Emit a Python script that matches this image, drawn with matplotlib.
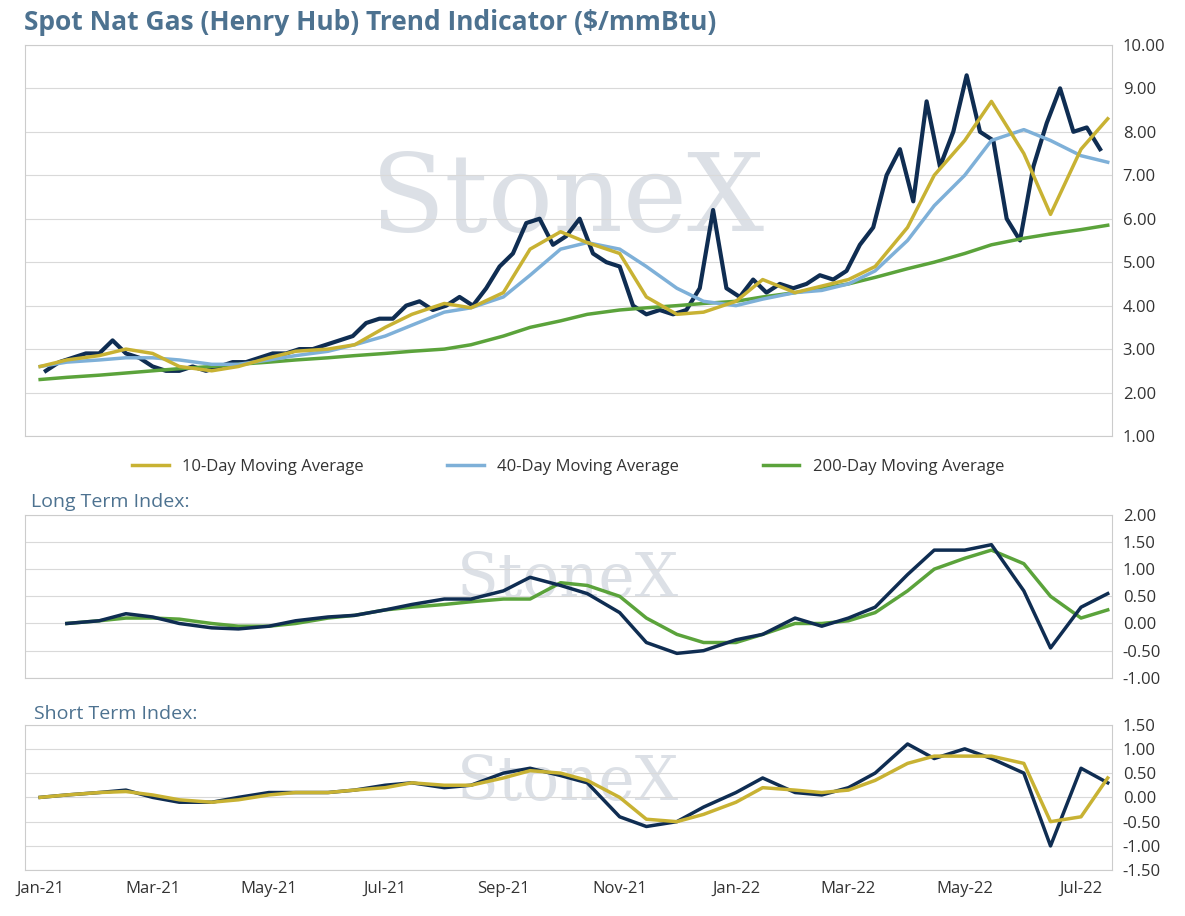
import matplotlib
matplotlib.use("Agg")
import matplotlib.pyplot as plt
import matplotlib.dates as mdates
import numpy as np
import pandas as pd

plt.rcParams["font.family"] = ["Open Sans", "DejaVu Sans"]

NAVY = "#0f2d52"
GOLD = "#c8b233"
BLUE = "#7eb0d8"
GREEN = "#5ba33b"
TITLE = "#4d7290"

# weekly spot price, from first Monday of 2021
spot = [2.5, 2.7, 2.8, 2.9, 2.9, 3.2, 2.9, 2.8, 2.6, 2.5, 2.5, 2.6,
        2.5, 2.6, 2.7, 2.7, 2.8, 2.9, 2.9, 3.0, 3.0, 3.1, 3.2, 3.3, 3.6,
        3.7, 3.7, 4.0, 4.1, 3.9, 4.0, 4.2, 4.0, 4.4, 4.9, 5.2, 5.9, 6.0,
        5.4, 5.6, 6.0, 5.2, 5.0, 4.9, 4.0, 3.8, 3.9, 3.8, 3.9, 4.4, 6.2,
        4.4, 4.2, 4.6, 4.3, 4.5, 4.4, 4.5, 4.7, 4.6, 4.8, 5.4, 5.8, 7.0,
        7.6, 6.4, 8.7, 7.2, 8.0, 9.3, 8.0, 7.8, 6.0, 5.5, 7.2, 8.2, 9.0,
        8.0, 8.1, 7.6]

# semi-monthly series (1st and 15th of each month)
ma10 = [2.6, 2.75, 2.85, 3.0, 2.9, 2.6, 2.5, 2.6, 2.8, 2.95,
        3.0, 3.1, 3.5, 3.8, 4.05, 3.95, 4.3, 5.3, 5.7, 5.45,
        5.2, 4.2, 3.8, 3.85, 4.1, 4.6, 4.3, 4.45, 4.6, 4.9,
        5.8, 7.0, 7.8, 8.7, 7.5, 6.1, 7.6, 8.3]
ma40 = [2.6, 2.7, 2.75, 2.8, 2.8, 2.75, 2.65, 2.65, 2.75, 2.85,
        2.95, 3.1, 3.3, 3.55, 3.85, 3.95, 4.2, 4.7, 5.3, 5.45,
        5.3, 4.9, 4.4, 4.1, 4.0, 4.15, 4.3, 4.35, 4.5, 4.8,
        5.5, 6.3, 7.0, 7.8, 8.05, 7.8, 7.45, 7.3]
ma200 = [2.3, 2.35, 2.4, 2.45, 2.5, 2.55, 2.6, 2.65, 2.7, 2.75,
         2.8, 2.85, 2.9, 2.95, 3.0, 3.1, 3.3, 3.5, 3.65, 3.8,
         3.9, 3.95, 4.0, 4.05, 4.1, 4.2, 4.3, 4.4, 4.5, 4.65,
         4.85, 5.0, 5.2, 5.4, 5.55, 5.65, 5.75, 5.85]
long_fast = [np.nan, 0, 0.05, 0.18, 0.12, 0.0, -0.08, -0.1, -0.05, 0.05,
             0.12, 0.15, 0.25, 0.35, 0.45, 0.45, 0.6, 0.85, 0.7, 0.55,
             0.2, -0.35, -0.55, -0.5, -0.3, -0.2, 0.1, -0.05, 0.1, 0.3,
             0.9, 1.35, 1.35, 1.45, 0.6, -0.45, 0.3, 0.55]
long_slow = [np.nan, 0, 0.05, 0.1, 0.1, 0.08, 0.0, -0.05, -0.05, 0.0,
             0.1, 0.15, 0.25, 0.3, 0.35, 0.4, 0.45, 0.45, 0.75, 0.7,
             0.5, 0.1, -0.2, -0.35, -0.35, -0.2, 0.0, 0.0, 0.05, 0.2,
             0.6, 1.0, 1.2, 1.35, 1.1, 0.5, 0.1, 0.25]
short_fast = [0, 0.05, 0.1, 0.15, 0.0, -0.1, -0.1, 0.0, 0.1, 0.1,
              0.1, 0.15, 0.25, 0.3, 0.2, 0.25, 0.5, 0.6, 0.45, 0.3,
              -0.4, -0.6, -0.5, -0.2, 0.1, 0.4, 0.1, 0.05, 0.2, 0.5,
              1.1, 0.8, 1.0, 0.8, 0.5, -1.0, 0.6, 0.3]
short_slow = [0, 0.05, 0.1, 0.12, 0.05, -0.05, -0.1, -0.05, 0.05, 0.1,
              0.1, 0.15, 0.2, 0.3, 0.25, 0.25, 0.4, 0.55, 0.5, 0.35,
              0.0, -0.45, -0.5, -0.35, -0.1, 0.2, 0.15, 0.1, 0.15, 0.35,
              0.7, 0.85, 0.85, 0.85, 0.7, -0.5, -0.4, 0.4]

spot_dates = pd.date_range("2021-01-04", periods=len(spot), freq="7D")
months = pd.date_range("2021-01-01", periods=19, freq="MS")
semi = sorted(list(months) + [m + pd.Timedelta(days=14) for m in months])[:len(ma10)]

x0, x1 = pd.Timestamp("2020-12-24"), pd.Timestamp("2022-07-17")

fig = plt.figure(figsize=(11.85, 9.16), dpi=100)
ax1 = fig.add_axes([0.021, 0.524, 0.917, 0.427])
ax2 = fig.add_axes([0.021, 0.26, 0.917, 0.178])
ax3 = fig.add_axes([0.021, 0.05, 0.917, 0.159])

def style(ax, lo, hi, step):
    ax.set_xlim(x0, x1)
    ax.set_ylim(lo, hi)
    ax.set_yticks(np.arange(lo, hi + 0.001, step))
    ax.yaxis.tick_right()
    ax.yaxis.set_major_formatter(matplotlib.ticker.FormatStrFormatter("%.2f"))
    ax.tick_params(axis="y", length=0, labelsize=12, colors="#333333", pad=8)
    ax.tick_params(axis="x", length=0)
    ax.grid(axis="y", color="#d9d9d9", lw=0.8)
    for s in ax.spines.values():
        s.set_color("#cccccc")
        s.set_linewidth(0.8)
    ax.set_xticks(months[::2])
    ax.xaxis.set_major_formatter(mdates.DateFormatter("%b-%y"))
    ax.set_axisbelow(True)

def watermark(ax, size):
    ax.text(0.5, 0.6, "StoneX", transform=ax.transAxes, ha="center", va="center",
            fontsize=size, family="DejaVu Serif", color="#c5ccd6", alpha=0.6, zorder=0)

style(ax1, 1, 10, 1)
watermark(ax1, 78)
ax1.plot(spot_dates, spot, color=NAVY, lw=3, zorder=3)
ax1.plot(semi, ma200, color=GREEN, lw=2.5, label="200-Day Moving Average", zorder=4)
ax1.plot(semi, ma40, color=BLUE, lw=2.5, label="40-Day Moving Average", zorder=4)
ax1.plot(semi, ma10, color=GOLD, lw=2.5, label="10-Day Moving Average", zorder=5)
ax1.tick_params(axis="x", labelbottom=False)
h, l = ax1.get_legend_handles_labels()
ax1.legend(h[::-1], l[::-1], loc="upper center", bbox_to_anchor=(0.5, -0.02), ncol=3,
           frameon=False, fontsize=12, handlelength=2.2, columnspacing=5, labelcolor="#333333")
fig.text(0.02, 0.975, "Spot Nat Gas (Henry Hub) Trend Indicator ($/mmBtu)", fontsize=19,
         fontweight="bold", color=TITLE, va="center")

style(ax2, -1, 2, 0.5)
watermark(ax2, 44)
ax2.plot(semi, long_slow, color=GREEN, lw=2.5)
ax2.plot(semi, long_fast, color=NAVY, lw=2.5)
ax2.tick_params(axis="x", labelbottom=False)
fig.text(0.026, 0.452, "Long Term Index:", fontsize=14, color=TITLE, va="center")

style(ax3, -1.5, 1.5, 0.5)
watermark(ax3, 44)
ax3.plot(semi, short_fast, color=NAVY, lw=2.5)
ax3.plot(semi, short_slow, color=GOLD, lw=2.5)
ax3.tick_params(axis="x", labelsize=12, colors="#333333", pad=8)
fig.text(0.029, 0.221, "Short Term Index:", fontsize=14, color=TITLE, va="center")

fig.savefig("out.png", dpi=100)
